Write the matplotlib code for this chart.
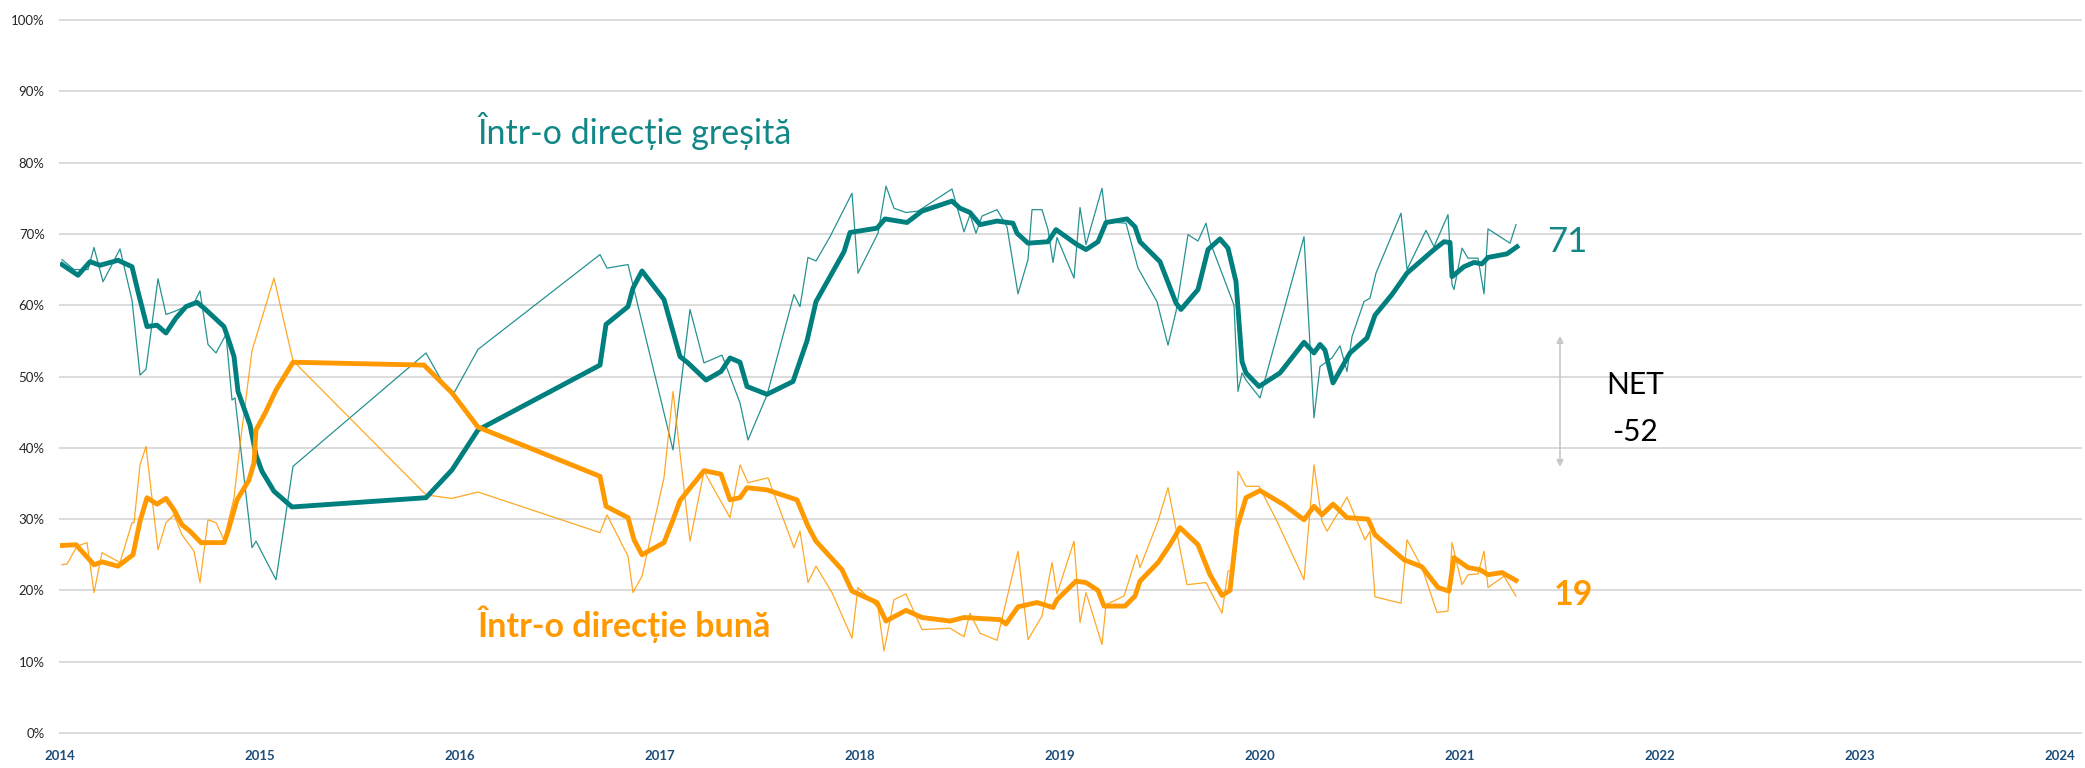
import matplotlib
matplotlib.use('Agg')
import matplotlib.pyplot as plt
import numpy as np

plt.rcParams['font.family'] = ['Lato', 'DejaVu Sans']

TEAL = '#007F7F'
ORANGE = '#FF9900'

# "Intr-o directie gresita" - raw poll values
wrong_raw_x = [2014.01, 2014.07, 2014.14, 2014.17, 2014.215, 2014.26, 2014.30, 2014.36,
               2014.40, 2014.43, 2014.49, 2014.53, 2014.57, 2014.67, 2014.70, 2014.74,
               2014.78, 2014.83, 2014.86, 2014.875, 2014.96, 2014.98, 2015.08, 2015.165,
               2015.83, 2015.91, 2015.97, 2016.09, 2016.70, 2016.735, 2016.84, 2017.065,
               2017.15, 2017.22, 2017.31, 2017.40, 2017.44, 2017.535, 2017.67, 2017.70,
               2017.74, 2017.78, 2017.85, 2017.96, 2017.99, 2018.09, 2018.13, 2018.17,
               2018.23, 2018.29, 2018.46, 2018.52, 2018.55, 2018.58, 2018.61, 2018.685,
               2018.735, 2018.79, 2018.84, 2018.86, 2018.91, 2018.94, 2018.965, 2018.985,
               2019.07, 2019.10, 2019.13, 2019.21, 2019.23, 2019.33, 2019.39, 2019.485,
               2019.54, 2019.58, 2019.64, 2019.69, 2019.73, 2019.75, 2019.85, 2019.87,
               2019.89, 2019.91, 2019.93, 2020.00, 2020.22, 2020.27, 2020.30, 2020.36,
               2020.40, 2020.435, 2020.46, 2020.52, 2020.55, 2020.58, 2020.705, 2020.735,
               2020.83, 2020.87, 2020.94, 2020.96, 2020.97, 2021.01, 2021.04, 2021.09,
               2021.12, 2021.14, 2021.25, 2021.28]
wrong_raw_y = [66.4, 65.0, 65.0, 68.1, 63.3, 65.7, 67.9, 60.7,
               50.2, 51.0, 63.7, 58.7, 59.1, 60.3, 62.0, 54.5,
               53.3, 55.9, 46.7, 47.0, 26.0, 26.9, 21.5, 37.4,
               53.3, 49.3, 47.7, 53.8, 67.1, 65.2, 65.7, 39.7,
               59.4, 51.9, 53.0, 46.3, 41.1, 47.4, 61.5, 59.8,
               66.7, 66.2, 69.6, 75.7, 64.5, 70.1, 76.7, 73.6,
               73.0, 73.2, 76.3, 70.3, 72.7, 70.1, 72.5, 73.4,
               71.0, 61.6, 66.4, 73.4, 73.4, 70.6, 66.0, 69.5,
               63.8, 73.7, 68.5, 76.4, 71.7, 71.5, 65.2, 60.5,
               54.4, 59.1, 69.9, 69.0, 71.5, 68.9, 61.5, 60.0,
               47.9, 50.5, 49.5, 47.0, 69.6, 44.2, 51.4, 52.6,
               54.3, 50.7, 55.6, 60.5, 61.0, 64.5, 72.9, 65.0,
               70.5, 68.2, 72.7, 62.9, 62.2, 68.0, 66.6, 66.6,
               61.6, 70.7, 68.7, 71.3]

# "Intr-o directie gresita" - moving average
wrong_avg_x = [2014.01, 2014.09, 2014.15, 2014.20, 2014.29, 2014.36, 2014.39, 2014.435,
               2014.485, 2014.53, 2014.58, 2014.63, 2014.685, 2014.72, 2014.82, 2014.84,
               2014.87, 2014.89, 2014.95, 2014.98, 2015.01, 2015.07, 2015.16, 2015.83,
               2015.96, 2016.09, 2016.70, 2016.73, 2016.84, 2016.865, 2016.91, 2017.02,
               2017.10, 2017.14, 2017.23, 2017.305, 2017.35, 2017.40, 2017.435, 2017.535,
               2017.665, 2017.735, 2017.78, 2017.92, 2017.95, 2018.085, 2018.125, 2018.235,
               2018.31, 2018.46, 2018.50, 2018.55, 2018.60, 2018.685, 2018.765, 2018.785,
               2018.84, 2018.94, 2018.98, 2019.08, 2019.13, 2019.19, 2019.23, 2019.335,
               2019.375, 2019.40, 2019.50, 2019.58, 2019.605, 2019.69, 2019.74, 2019.80,
               2019.84, 2019.88, 2019.91, 2019.93, 2019.995, 2020.10, 2020.22, 2020.27,
               2020.30, 2020.325, 2020.365, 2020.45, 2020.535, 2020.575, 2020.66, 2020.735,
               2020.87, 2020.92, 2020.95, 2020.96, 2021.02, 2021.07, 2021.11, 2021.14,
               2021.235, 2021.285]
wrong_avg_y = [65.7, 64.2, 66.1, 65.6, 66.3, 65.4, 61.9, 57.0,
               57.2, 56.1, 58.2, 59.8, 60.4, 59.6, 57.0, 55.4,
               52.8, 47.9, 43.2, 39.0, 36.7, 33.9, 31.7, 33.0,
               36.9, 42.5, 51.6, 57.3, 59.8, 62.4, 64.8, 60.8,
               52.8, 51.9, 49.5, 50.7, 52.6, 52.0, 48.6, 47.5,
               49.3, 55.0, 60.5, 67.5, 70.2, 70.8, 72.1, 71.6,
               73.2, 74.6, 73.6, 73.0, 71.3, 71.8, 71.5, 70.1,
               68.7, 68.9, 70.6, 68.6, 67.8, 68.9, 71.6, 72.1,
               71.0, 68.9, 66.1, 60.3, 59.4, 62.2, 67.8, 69.3,
               68.0, 63.3, 52.1, 50.5, 48.6, 50.5, 54.8, 53.3,
               54.5, 53.7, 49.1, 53.3, 55.4, 58.6, 61.5, 64.5,
               67.8, 68.9, 68.8, 64.0, 65.4, 66.0, 65.8, 66.7,
               67.2, 68.2]

# "Intr-o directie buna" - raw poll values
good_raw_x = [2014.01, 2014.035, 2014.085, 2014.135, 2014.17, 2014.21, 2014.30, 2014.36,
              2014.37, 2014.40, 2014.43, 2014.49, 2014.53, 2014.57, 2014.61, 2014.67,
              2014.70, 2014.74, 2014.78, 2014.82, 2014.87, 2014.90, 2014.96, 2015.07,
              2015.165, 2015.83, 2015.96, 2016.09, 2016.70, 2016.735, 2016.84, 2016.865,
              2016.91, 2017.02, 2017.065, 2017.15, 2017.22, 2017.35, 2017.40, 2017.44,
              2017.54, 2017.67, 2017.70, 2017.74, 2017.78, 2017.86, 2017.96, 2017.99,
              2018.09, 2018.12, 2018.17, 2018.23, 2018.31, 2018.45, 2018.52, 2018.55,
              2018.60, 2018.685, 2018.79, 2018.84, 2018.91, 2018.96, 2018.985, 2019.07,
              2019.10, 2019.13, 2019.21, 2019.23, 2019.32, 2019.385, 2019.40, 2019.49,
              2019.54, 2019.635, 2019.73, 2019.81, 2019.84, 2019.87, 2019.89, 2019.93,
              2019.995, 2020.085, 2020.22, 2020.27, 2020.31, 2020.335, 2020.385, 2020.435,
              2020.525, 2020.55, 2020.575, 2020.705, 2020.735, 2020.81, 2020.885, 2020.94,
              2020.96, 2021.01, 2021.04, 2021.09, 2021.12, 2021.14, 2021.22, 2021.28]
good_raw_y = [23.6, 23.7, 26.2, 26.7, 19.7, 25.3, 23.9, 29.5,
              29.5, 37.6, 40.2, 25.7, 29.5, 30.6, 27.8, 25.5,
              21.1, 29.9, 29.5, 27.1, 33.0, 40.4, 53.6, 63.8,
              52.2, 33.4, 32.9, 33.8, 28.1, 30.6, 24.8, 19.7,
              22.0, 35.8, 47.9, 26.9, 36.7, 30.2, 37.6, 35.1,
              35.8, 26.0, 28.3, 21.1, 23.4, 19.7, 13.3, 20.4,
              17.6, 11.5, 18.7, 19.5, 14.5, 14.7, 13.5, 16.8,
              14.0, 13.0, 25.5, 13.1, 16.4, 23.9, 19.5, 26.9,
              15.5, 19.7, 12.4, 18.0, 19.2, 25.0, 23.2, 29.7,
              34.4, 20.8, 21.1, 16.8, 22.7, 23.0, 36.7, 34.6,
              34.6, 29.7, 21.5, 37.6, 29.7, 28.3, 30.6, 33.1,
              27.1, 28.3, 19.1, 18.2, 27.1, 23.2, 16.9, 17.1,
              26.7, 20.8, 22.2, 22.3, 25.5, 20.4, 22.0, 19.2]

# "Intr-o directie buna" - moving average
good_avg_x = [2014.01, 2014.08, 2014.17, 2014.21, 2014.29, 2014.365, 2014.40, 2014.435,
              2014.485, 2014.53, 2014.57, 2014.61, 2014.65, 2014.705, 2014.82, 2014.84,
              2014.885, 2014.945, 2014.97, 2014.98, 2015.03, 2015.08, 2015.165, 2015.66,
              2015.82, 2015.96, 2016.09, 2016.70, 2016.73, 2016.84, 2016.87, 2016.91,
              2017.02, 2017.065, 2017.10, 2017.22, 2017.305, 2017.35, 2017.40, 2017.435,
              2017.535, 2017.685, 2017.74, 2017.78, 2017.91, 2017.96, 2018.085, 2018.13,
              2018.23, 2018.31, 2018.45, 2018.52, 2018.70, 2018.73, 2018.79, 2018.885,
              2018.965, 2018.985, 2019.08, 2019.13, 2019.19, 2019.22, 2019.325, 2019.375,
              2019.40, 2019.49, 2019.55, 2019.60, 2019.69, 2019.75, 2019.81, 2019.85,
              2019.885, 2019.93, 2020.00, 2020.12, 2020.22, 2020.27, 2020.31, 2020.365,
              2020.435, 2020.54, 2020.575, 2020.72, 2020.81, 2020.89, 2020.945, 2020.97,
              2021.04, 2021.10, 2021.14, 2021.21, 2021.28]
good_avg_y = [26.3, 26.4, 23.6, 24.0, 23.4, 25.0, 29.7, 33.0,
              32.1, 32.9, 31.3, 29.2, 28.3, 26.7, 26.7, 28.3,
              32.7, 35.5, 37.9, 42.5, 45.1, 48.1, 52.0, 51.7,
              51.6, 47.7, 42.9, 36.0, 31.8, 30.2, 27.1, 25.0,
              26.7, 29.9, 32.6, 36.8, 36.3, 32.7, 33.0, 34.4,
              34.1, 32.7, 29.0, 26.9, 22.9, 19.9, 18.3, 15.7,
              17.2, 16.2, 15.7, 16.2, 15.9, 15.3, 17.7, 18.3,
              17.6, 18.7, 21.3, 21.1, 20.0, 17.8, 17.8, 19.2,
              21.3, 23.9, 26.4, 28.8, 26.4, 22.2, 19.3, 20.0,
              28.8, 33.0, 34.0, 32.0, 29.9, 31.8, 30.6, 32.1,
              30.2, 30.0, 27.8, 24.3, 23.3, 20.4, 19.9, 24.6,
              23.2, 22.9, 22.2, 22.5, 21.4]

years = list(range(2014, 2025))
pct_ticks = list(range(0, 101, 10))

fig = plt.figure(figsize=(20.85, 7.68), dpi=100)
ax = fig.add_axes([60 / 2085, 35 / 768, 2021 / 2085, 713 / 768])

ax.plot(wrong_raw_x, wrong_raw_y, color=TEAL, lw=0.9, alpha=0.85, zorder=3)
ax.plot(good_raw_x, good_raw_y, color=ORANGE, lw=0.9, alpha=0.85, zorder=3)
ax.plot(wrong_avg_x, wrong_avg_y, color=TEAL, lw=3.5, zorder=4, solid_joinstyle='round')
ax.plot(good_avg_x, good_avg_y, color=ORANGE, lw=3.5, zorder=4, solid_joinstyle='round')

ax.set_xlim(2014, 2024.105)
ax.set_ylim(0, 100)
ax.set_yticks(pct_ticks)
ax.set_yticklabels(['%d%%' % v for v in pct_ticks], fontsize=9.5, color='#262626')
ax.set_xticks(years)
ax.set_xticklabels([str(y) for y in years], fontsize=9.5, color='#1F4E79',
                   fontweight='bold')
ax.tick_params(axis='y', length=0, pad=11)
ax.tick_params(axis='x', length=0, pad=12)
ax.grid(axis='y', color='#D9D9D9', lw=1.3)
for line in ax.get_ygridlines():
    line.set_clip_on(False)
ax.set_axisbelow(True)
for s in ax.spines.values():
    s.set_visible(False)

# series labels
ax.text(2016.09, 82.6, 'Într-o direcție greșită', color='#128787', fontsize=24.5,
        va='baseline', ha='left')
ax.text(2016.09, 13.4, 'Într-o direcție bună', color=ORANGE, fontsize=24.5,
        fontweight='bold', va='baseline', ha='left')
ax.text(2021.435, 67.4, '71', color='#128787', fontsize=25, va='baseline')
ax.text(2021.47, 17.9, '19', color=ORANGE, fontsize=24.5, fontweight='bold', va='baseline')

# net annotation
ax.annotate('', xy=(2021.5, 55.7), xytext=(2021.5, 37.3),
            arrowprops=dict(arrowstyle='<|-|>', color='#C8C8C8', lw=1.2,
                            mutation_scale=10, shrinkA=0, shrinkB=0))
ax.text(2021.875, 47.6, 'NET', color='black', fontsize=21.5, ha='center', va='baseline')
ax.text(2021.875, 40.9, '-52', color='black', fontsize=21.5, ha='center', va='baseline')

fig.savefig('out.png', dpi=100)
